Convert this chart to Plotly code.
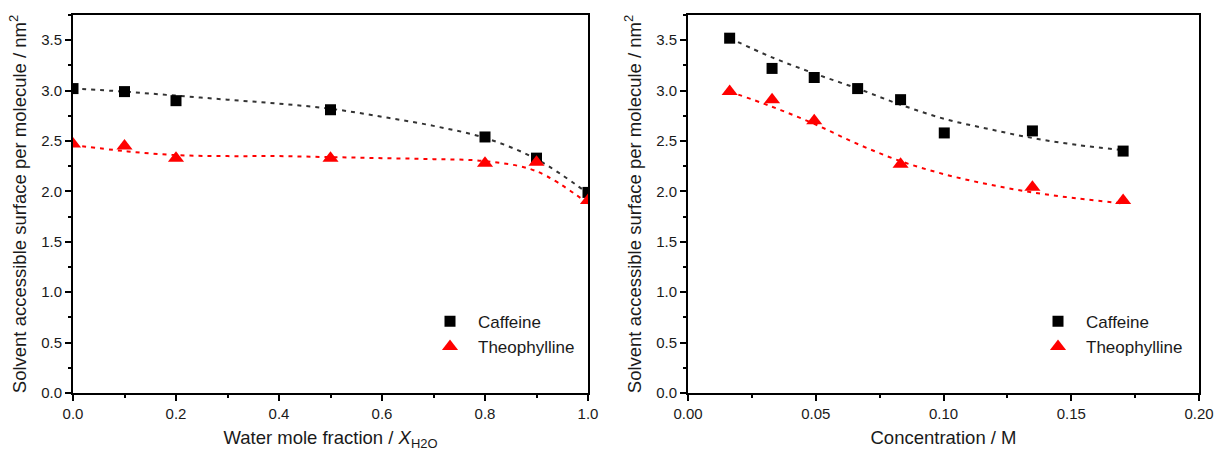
import plotly.graph_objects as go

# ---- Left panel: water mole fraction ----
x_water = [0.0, 0.1, 0.2, 0.5, 0.8, 0.9, 1.0]
caff_water = [3.02, 2.99, 2.90, 2.81, 2.54, 2.33, 1.99]
theo_water = [2.47, 2.45, 2.33, 2.33, 2.28, 2.29, 1.91]

# fitted (dotted) curves
fit_x_water = [0.0, 0.1, 0.2, 0.3, 0.4, 0.5, 0.6, 0.7, 0.8, 0.9, 1.0]
fit_caff_water = [3.02, 2.99, 2.95, 2.91, 2.87, 2.82, 2.74, 2.65, 2.53, 2.32, 1.98]
fit_theo_water = [2.46, 2.40, 2.36, 2.35, 2.35, 2.34, 2.33, 2.32, 2.30, 2.20, 1.88]

# ---- Right panel: concentration ----
x_conc_caff = [0.0163, 0.0329, 0.0494, 0.0664, 0.0832, 0.1003, 0.1348, 0.1703]
caff_conc = [3.52, 3.22, 3.13, 3.02, 2.91, 2.58, 2.60, 2.40]
x_conc_theo = [0.0163, 0.0329, 0.0494, 0.0832, 0.1348, 0.1703]
theo_conc = [2.99, 2.91, 2.70, 2.27, 2.04, 1.91]

fit_x_conc = [0.0163, 0.0329, 0.0494, 0.0664, 0.0832, 0.1003, 0.1175, 0.1348, 0.1525, 0.1703]
fit_caff_conc = [3.52, 3.33, 3.17, 3.02, 2.86, 2.72, 2.62, 2.53, 2.46, 2.41]
fit_theo_conc = [2.99, 2.84, 2.67, 2.47, 2.30, 2.17, 2.07, 1.99, 1.93, 1.88]

BLACK = "#000000"
RED = "#ff0000"
TXT = "#1a1a1a"
FONT = "Liberation Sans, Arial, sans-serif"

fig = go.Figure()

line_black = dict(color="#333333", width=2, dash="4px,5px")
line_red = dict(color=RED, width=2, dash="4px,5px")
sq = dict(symbol="square", size=11, color=BLACK)
tri = dict(symbol="triangle-up", size=14, color=RED)

# left panel
fig.add_trace(go.Scatter(x=fit_x_water, y=fit_caff_water, mode="lines", line=line_black,
                         line_shape="spline", showlegend=False, xaxis="x", yaxis="y"))
fig.add_trace(go.Scatter(x=fit_x_water, y=fit_theo_water, mode="lines", line=line_red,
                         line_shape="spline", showlegend=False, xaxis="x", yaxis="y"))
fig.add_trace(go.Scatter(x=x_water, y=caff_water, mode="markers", name="Caffeine",
                         marker=sq, xaxis="x", yaxis="y", legend="legend"))
fig.add_trace(go.Scatter(x=x_water, y=theo_water, mode="markers", name="Theophylline",
                         marker=tri, xaxis="x", yaxis="y", legend="legend"))

# right panel
fig.add_trace(go.Scatter(x=fit_x_conc, y=fit_caff_conc, mode="lines", line=line_black,
                         line_shape="spline", showlegend=False, xaxis="x2", yaxis="y2"))
fig.add_trace(go.Scatter(x=fit_x_conc, y=fit_theo_conc, mode="lines", line=line_red,
                         line_shape="spline", showlegend=False, xaxis="x2", yaxis="y2"))
fig.add_trace(go.Scatter(x=x_conc_caff, y=caff_conc, mode="markers", name="Caffeine",
                         marker=sq, xaxis="x2", yaxis="y2", legend="legend2"))
fig.add_trace(go.Scatter(x=x_conc_theo, y=theo_conc, mode="markers", name="Theophylline",
                         marker=tri, xaxis="x2", yaxis="y2", legend="legend2"))

W, H = 1217, 452
axis_common = dict(showline=True, linecolor=BLACK, linewidth=2, mirror=True,
                   ticks="outside", ticklen=6, tickwidth=2, tickcolor=BLACK,
                   showgrid=False, zeroline=False, automargin=False,
                   tickfont=dict(family=FONT, size=15, color=TXT))
minor_common = dict(ticks="outside", ticklen=3, tickwidth=2, tickcolor=BLACK)
title_font = dict(family=FONT, size=18.5, color=TXT)
ytitle = "Solvent accessible surface per molecule / nm<sup>2</sup>"
legend_common = dict(xanchor="left", yanchor="top", bgcolor="rgba(0,0,0,0)",
                     font=dict(family=FONT, size=17, color=TXT),
                     tracegroupgap=0, itemwidth=46)

fig.update_layout(
    width=W, height=H,
    margin=dict(l=0, r=0, t=15, b=59),
    paper_bgcolor="white", plot_bgcolor="white",
    font=dict(family=FONT, color=TXT),
    xaxis=dict(axis_common, domain=[73 / W, 588 / W], range=[0, 1], dtick=0.2,
               tickformat=".1f", anchor="y", minor=dict(minor_common, dtick=0.1),
               title=dict(text="Water mole fraction / <i>X</i><sub>H2O</sub>",
                          font=title_font, standoff=10)),
    yaxis=dict(axis_common, domain=[0, 1], range=[0, 3.75], dtick=0.5, tickformat=".1f",
               anchor="x", minor=dict(minor_common, dtick=0.25),
               title=dict(text=ytitle, font=title_font, standoff=10)),
    xaxis2=dict(axis_common, domain=[688 / W, 1199 / W], range=[0, 0.2], dtick=0.05,
                tickformat=".2f", anchor="y2", minor=dict(minor_common, dtick=0.025),
                ticklabeloverflow="allow",
                title=dict(text="Concentration / M", font=title_font, standoff=10)),
    yaxis2=dict(axis_common, domain=[0, 1], range=[0, 3.75], dtick=0.5, tickformat=".1f",
                anchor="x2", minor=dict(minor_common, dtick=0.25),
                title=dict(text=ytitle, font=title_font, standoff=10)),
    legend=dict(legend_common, x=422 / W, y=0.236),
    legend2=dict(legend_common, x=1030 / W, y=0.236),
)

# remove the browser's default 8px page margin so the figure fills the window exactly
fig.write_html("out.html", config={"displayModeBar": False},
               post_script="document.body.style.margin='0';")
